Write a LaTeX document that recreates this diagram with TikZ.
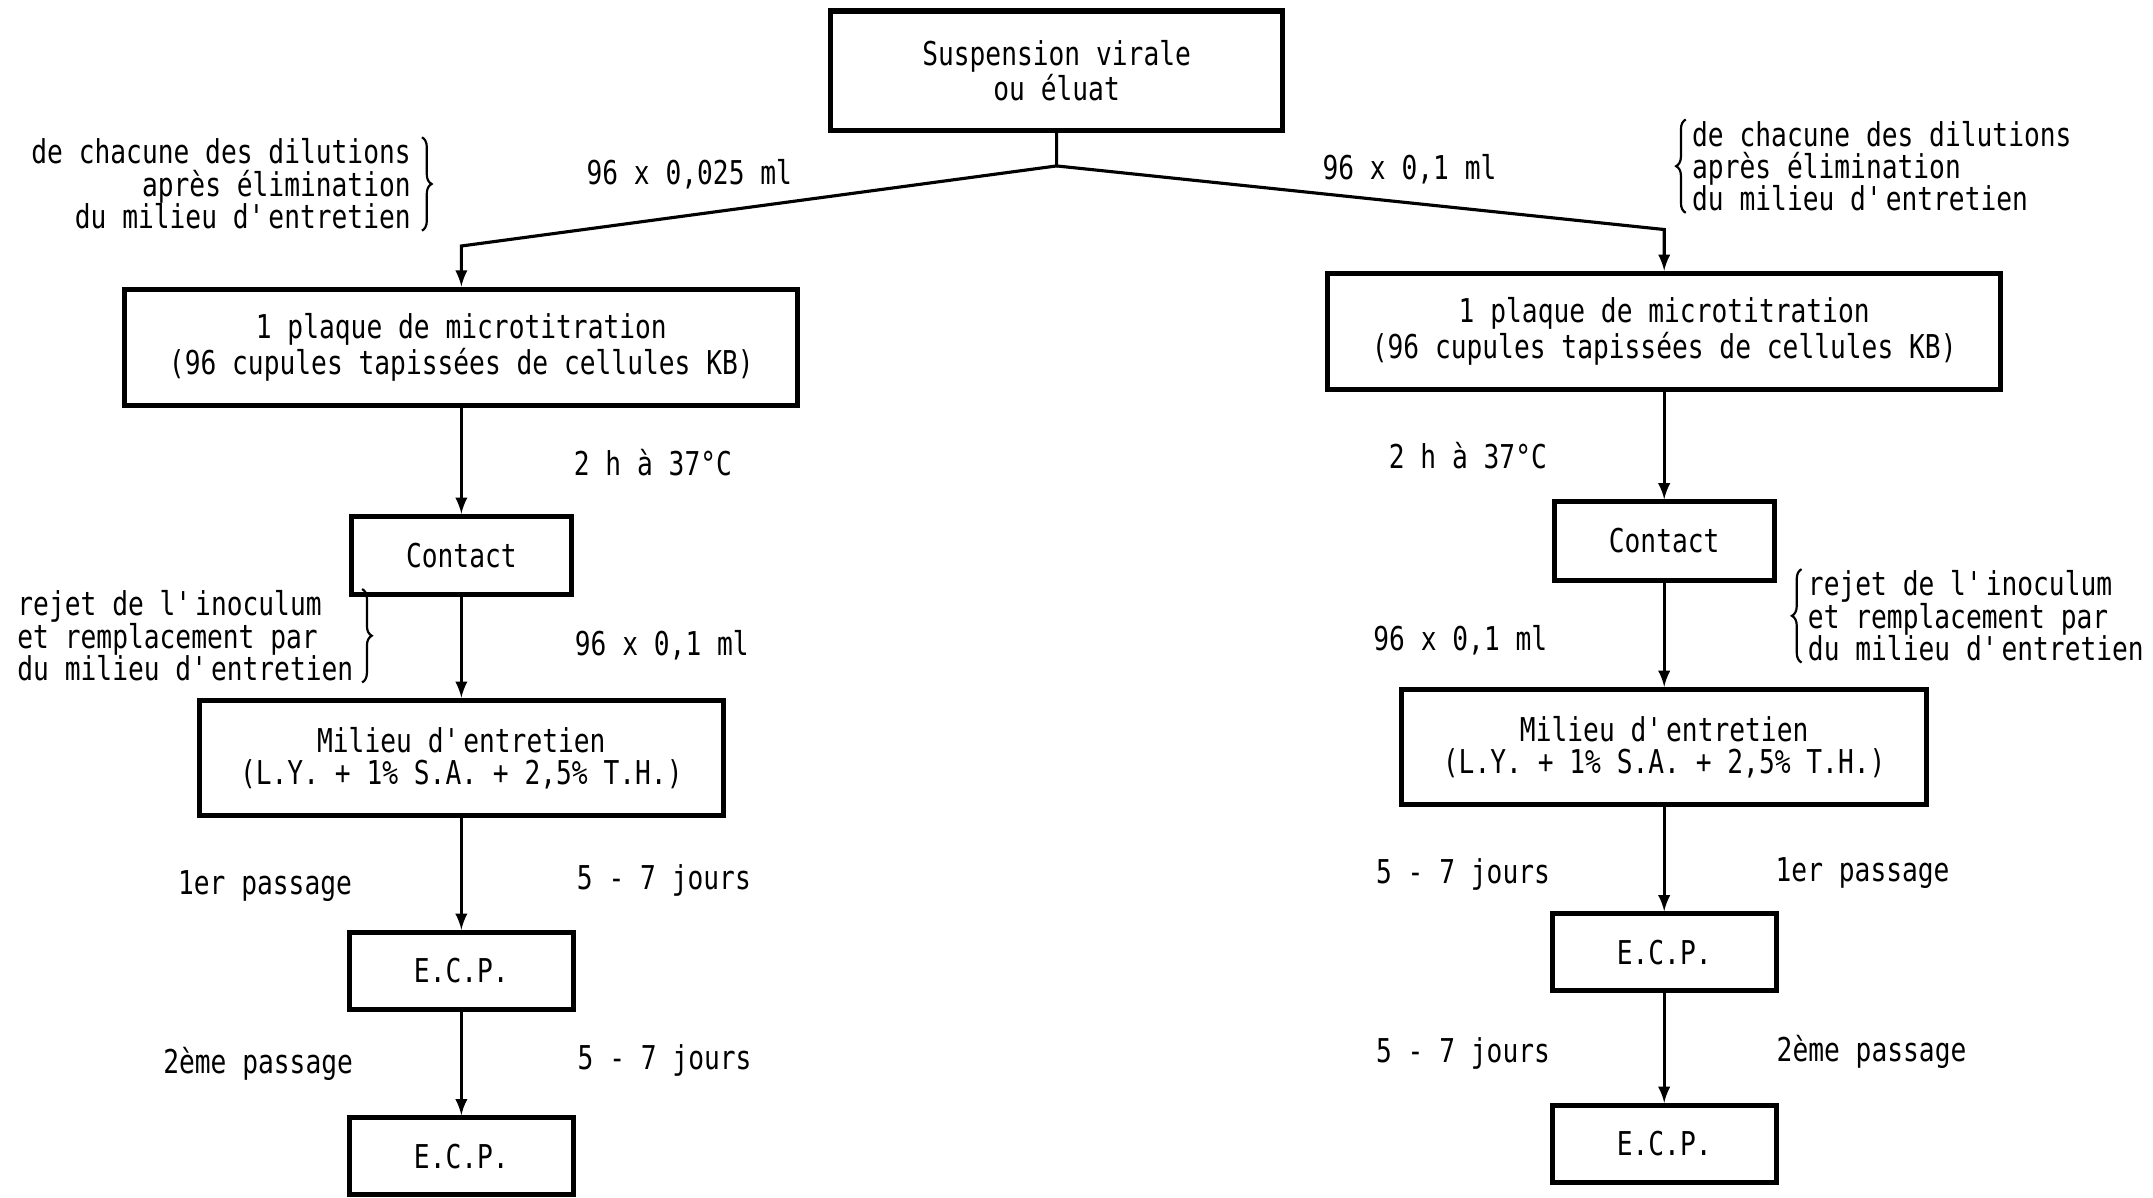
\documentclass[tikz,border=0pt]{standalone}
\usepackage{fontspec}
\setmainfont{DejaVu Sans Mono}[FakeStretch=0.8]
\usepackage{tikz}
\usetikzlibrary{positioning}
\usetikzlibrary{decorations.pathreplacing}
\newcommand{\ap}{\textquotesingle}

\begin{document}
\begin{tikzpicture}[-latex, line width=1.3pt, node distance = 3cm and 3cm, on grid, every node/.style={font=\fontsize{13.6}{13.4}\selectfont}, box/.style={rectangle, draw, line width=2.1pt, align=center, inner sep=0pt}, topbox/.style={box, minimum width=6.58cm, minimum height=1.74cm}, plate/.style={box, minimum width=9.8cm, minimum height=1.7cm}, contact/.style={box, minimum width=3.2cm, minimum height=1.14cm}, milieu/.style={box, minimum width=7.64cm, minimum height=1.68cm}, ecp/.style={box, minimum width=3.26cm, minimum height=1.12cm}, note/.style={inner sep=0pt}, br/.style={-, decorate, decoration={brace, amplitude=4pt}, line width=0.9pt}]
		\useasboundingbox (0,0) rectangle (31.36,-17.44);
		\node[topbox] (susp) at (15.39,-1.03) {Suspension virale\\ou éluat};
		\node[plate] (lplate) [below left = 4.03cm and 8.67cm of susp] {1 plaque de microtitration\\(96 cupules tapissées de cellules KB)};
		\node[plate] (rplate) [below right = 3.80cm and 8.85cm of susp] {1 plaque de microtitration\\(96 cupules tapissées de cellules KB)};
		\node[contact] (lcont) [below = 3.03cm of lplate] {Contact};
		\node[milieu] (lmil) [below = 2.95cm of lcont] {Milieu d\ap entretien\\(L.Y. + 1\% S.A. + 2,5\% T.H.)};
		\node[ecp] (lecp1) [below = 3.10cm of lmil] {E.C.P.};
		\node[ecp] (lecp2) [below = 2.70cm of lecp1] {E.C.P.};
		\node[contact] (rcont) [below = 3.05cm of rplate] {Contact};
		\node[milieu] (rmil) [below = 3.00cm of rcont] {Milieu d\ap entretien\\(L.Y. + 1\% S.A. + 2,5\% T.H.)};
		\node[ecp] (recp1) [below = 2.99cm of rmil] {E.C.P.};
		\node[ecp] (recp2) [below = 2.79cm of recp1] {E.C.P.};
		\coordinate[below = 0.48cm of susp.south] (split);
		\coordinate[above = 0.59cm of lplate.north] (lbend);
		\coordinate[above = 0.60cm of rplate.north] (rbend);
		% labels
		\node (ldose) [below left = 1.51cm and 5.35cm of susp] {96 x 0,025 ml};
		\node (rdose) [below right = 1.43cm and 5.14cm of susp] {96 x 0,1 ml};
		\node[note, align=right] (lnote1) [above left = 2.38cm and 3.5cm of lplate] {de chacune des dilutions\\après élimination\\du milieu d\ap entretien};
		\node[note, align=left] (rnote1) [above right = 2.41cm and 3.17cm of rplate] {de chacune des dilutions\\après élimination\\du milieu d\ap entretien};
		\node (ltemp) [below right = 1.68cm and 2.79cm of lplate] {2 h à 37°C};
		\node (rtemp) [below left = 1.81cm and 2.86cm of rplate] {2 h à 37°C};
		\node[note, align=left] (lnote2) [below left = 1.17cm and 4.02cm of lcont] {rejet de l\ap inoculum\\et remplacement par\\du milieu d\ap entretien};
		\node[note, align=left] (rnote2) [below right = 1.09cm and 4.54cm of rcont] {rejet de l\ap inoculum\\et remplacement par\\du milieu d\ap entretien};
		\node (lvol) [below right = 1.31cm and 2.92cm of lcont] {96 x 0,1 ml};
		\node (rvol) [below left = 1.44cm and 2.97cm of rcont] {96 x 0,1 ml};
		\node (lpass1) [below left = 1.86cm and 2.86cm of lmil] {1er passage};
		\node (ljours1) [below right = 1.78cm and 2.95cm of lmil] {5 - 7 jours};
		\node (lpass2) [below left = 1.36cm and 2.96cm of lecp1] {2ème passage};
		\node (ljours2) [below right = 1.30cm and 2.96cm of lecp1] {5 - 7 jours};
		\node (rjours1) [below left = 1.86cm and 2.93cm of rmil] {5 - 7 jours};
		\node (rpass1) [below right = 1.84cm and 2.89cm of rmil] {1er passage};
		\node (rjours2) [below left = 1.47cm and 2.93cm of recp1] {5 - 7 jours};
		\node (rpass2) [below right = 1.45cm and 3.02cm of recp1] {2ème passage};
		% braces
		\draw[br] ([xshift=4pt]lnote1.north east) -- ([xshift=4pt]lnote1.south east);
		\draw[br] ([xshift=-2pt]rnote1.south west) -- ([xshift=-2pt]rnote1.north west);
		\draw[br] ([xshift=3pt]lnote2.north east) -- ([xshift=3pt]lnote2.south east);
		\draw[br] ([xshift=-2pt]rnote2.south west) -- ([xshift=-2pt]rnote2.north west);
		% arrows
		\draw (susp.south) -- (split) -- (lbend) -- (lplate.north);
		\draw (split) -- (rbend) -- (rplate.north);
		\path (lplate) edge (lcont)
		(lcont) edge (lmil)
		(lmil) edge (lecp1)
		(lecp1) edge (lecp2)
		(rplate) edge (rcont)
		(rcont) edge (rmil)
		(rmil) edge (recp1)
		(recp1) edge (recp2);
\end{tikzpicture}
\end{document}
